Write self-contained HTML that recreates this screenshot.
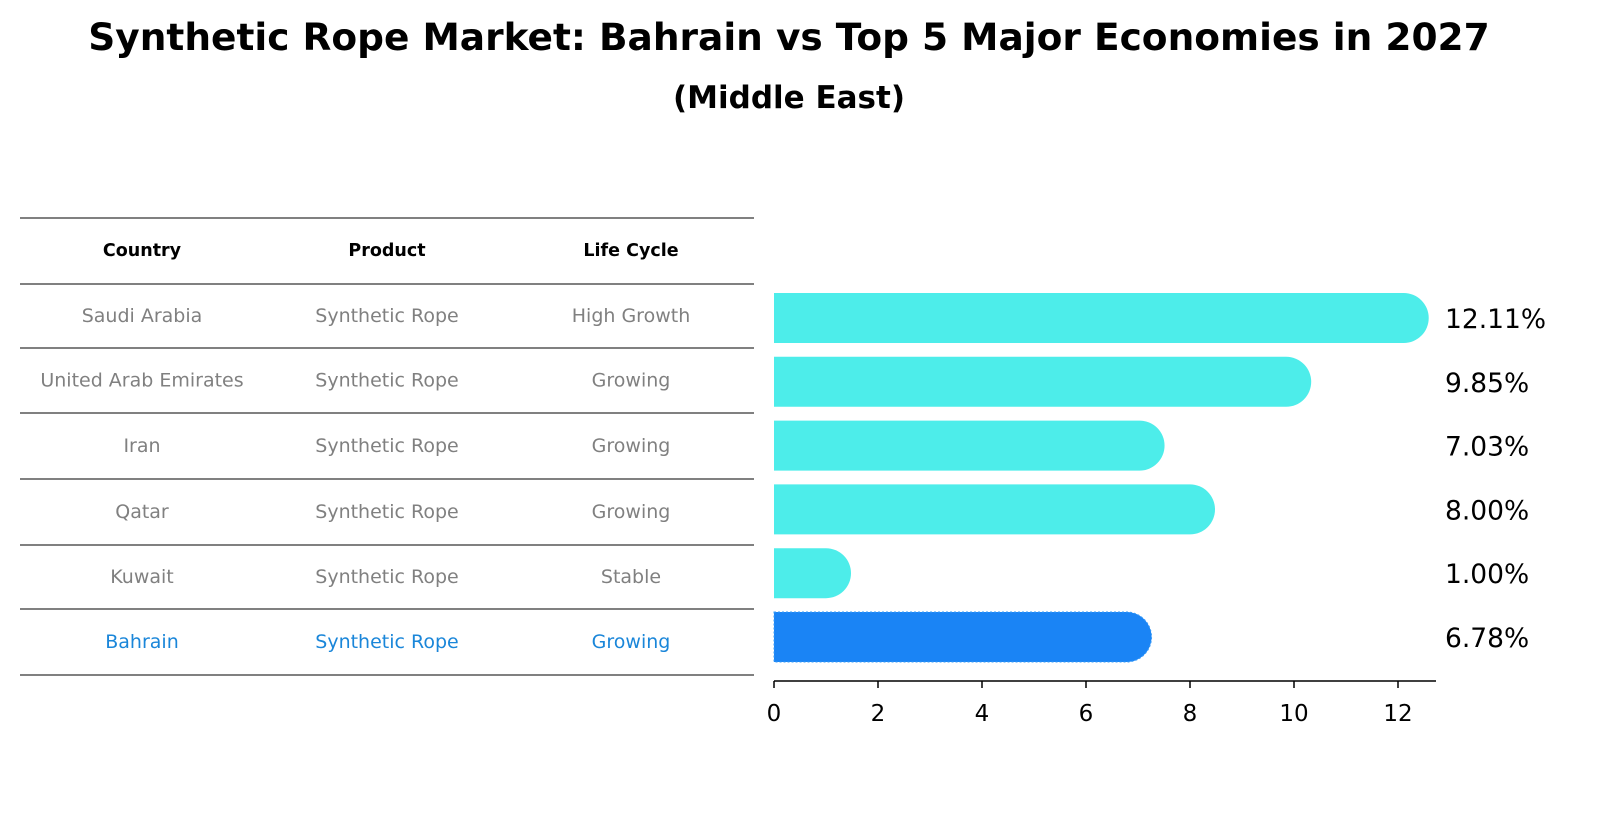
<!DOCTYPE html>
<html><head><meta charset="utf-8"><style>
body{margin:0;background:#fff;font-family:"Liberation Sans","DejaVu Sans",sans-serif;}
</style></head><body>
<svg width="1604" height="823" xmlns="http://www.w3.org/2000/svg" font-family="DejaVu Sans, Liberation Sans, sans-serif">
<text x="789" y="50" text-anchor="middle" font-size="37.5" font-weight="bold">Synthetic Rope Market: Bahrain vs Top 5 Major Economies in 2027</text>
<text x="789" y="108" text-anchor="middle" font-size="31" font-weight="bold">(Middle East)</text>
<g id="table"></g>
<g id="bars"></g>
</svg>
<script>
const countries=["Saudi Arabia","United Arab Emirates","Iran","Qatar","Kuwait","Bahrain"];
const products=["Synthetic Rope","Synthetic Rope","Synthetic Rope","Synthetic Rope","Synthetic Rope","Synthetic Rope"];
const lifeCycles=["High Growth","Growing","Growing","Growing","Stable","Growing"];
const values=[12.11,9.85,7.03,8.00,1.00,6.78];
const ticks=[0,2,4,6,8,10,12];
const NS="http://www.w3.org/2000/svg";
function mk(tag,attrs,parent,txt){const e=document.createElementNS(NS,tag);for(const k in attrs)e.setAttribute(k,attrs[k]);if(txt!==undefined)e.textContent=txt;parent.appendChild(e);return e;}
const tbl=document.getElementById('table');
const lineYs=[218,284,348,413,479,545,609,675];
lineYs.forEach(y=>{const l=mk('line',{x1:20,x2:754,y1:y,y2:y,stroke:'#000','stroke-width':1},tbl);

});
const colX=[142,387,631];
["Country","Product","Life Cycle"].forEach((h,i)=>{const t=mk('text',{x:colX[i],y:256,'text-anchor':'middle','font-size':17.5,'font-weight':'bold'},tbl,h);

});
countries.forEach((c,r)=>{const y=(lineYs[r+1]+lineYs[r+2])/2+6;const col=r===5?'#1a86d9':'#808080';
[c,products[r],lifeCycles[r]].forEach((v,i)=>{const t=mk('text',{x:colX[i],y:y,'text-anchor':'middle','font-size':19,fill:col},tbl,v);

});});
const g=document.getElementById('bars');
const x0=774,ppu=52;const xs=v=>x0+v*ppu;
const rowY=r=>318+r*63.8;const h=50;
values.forEach((v,r)=>{const cy=rowY(r);const col=r===5?'#1a84f5':'#4dedea';
const xe=xs(v);
const p=mk('path',{d:`M${x0},${cy-h/2} H${xe} A${h/2},${h/2} 0 0 1 ${xe},${cy+h/2} H${x0} Z`,fill:col},g);
if(r===5){p.setAttribute('stroke','#3a9cf7');p.setAttribute('stroke-dasharray','2 2');}


const t=mk('text',{x:1445,y:cy+10,'font-size':26.5},g,v.toFixed(2)+'%');

});
const ax=mk('line',{x1:x0,x2:1436,y1:681,y2:681,stroke:'#000','stroke-width':1.5},g);


ticks.forEach(tv=>{const x=xs(tv);const tk=mk('line',{x1:x,x2:x,y1:681,y2:688,stroke:'#000','stroke-width':1.5},g);


const t=mk('text',{x:x,y:721,'text-anchor':'middle','font-size':23},g,String(tv));

});
</script>
</body></html>
